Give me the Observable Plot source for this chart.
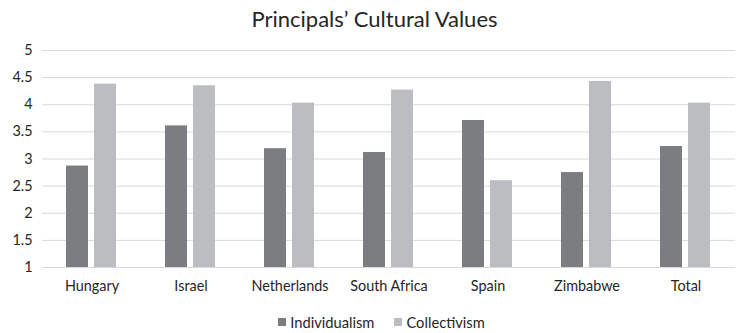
<!DOCTYPE html>
<html>
<head>
<meta charset="utf-8">
<script src="https://cdn.jsdelivr.net/npm/d3@7"></script>
<script src="https://cdn.jsdelivr.net/npm/@observablehq/plot@0.6"></script>
<style>
  html, body { margin: 0; padding: 0; background: #fff; }
  body { width: 737px; height: 333px; overflow: hidden; font-family: Lato, "Noto Sans", sans-serif; color: #262626; }
  #title { box-sizing: border-box; height: 40px; line-height: 37px; text-align: center; font-size: 22px; padding-left: 12px; }
  #chart svg { display: block; }
  #legend { box-sizing: border-box; display: flex; justify-content: center; align-items: center; height: 34px; padding-top: 12px; padding-left: 26px; font-size: 14.7px; gap: 20px; }
  #legend .item { display: flex; align-items: center; }
  #legend .sw { width: 8px; height: 8px; margin-right: 4px; display: inline-block; }
</style>
</head>
<body>
<div id="title">Principals’ Cultural Values</div>
<div id="chart"></div>
<div id="legend"></div>
<script>
// Mean scores per country
const countries = ["Hungary", "Israel", "Netherlands", "South Africa", "Spain", "Zimbabwe", "Total"];
const individualism = [2.87, 3.61, 3.19, 3.12, 3.71, 2.75, 3.23];
const collectivism = [4.38, 4.35, 4.03, 4.27, 2.60, 4.43, 4.03];
const seriesNames = ["Individualism", "Collectivism"];
const seriesColors = ["#7c7d81", "#bcbdc1"];
const yTicks = [1, 1.5, 2, 2.5, 3, 3.5, 4, 4.5, 5];

const rows = countries.flatMap((c, i) => [
  {country: c, series: seriesNames[0], value: individualism[i]},
  {country: c, series: seriesNames[1], value: collectivism[i]}
]);
const yMin = yTicks[0];

const chart = Plot.plot({
  width: 737,
  height: 259,
  marginTop: 10,
  marginLeft: 39,
  marginRight: 0,
  marginBottom: 32,
  style: {fontFamily: "Lato, 'Noto Sans', sans-serif", fontSize: "14.4px", color: "#262626", background: "#fff"},
  fx: {domain: countries, padding: 0, label: null},
  x: {domain: seriesNames, paddingInner: 0.207, paddingOuter: 0.83, axis: null},
  y: {domain: [yTicks[0], yTicks[yTicks.length - 1]], ticks: yTicks, label: null},
  color: {domain: seriesNames, range: seriesColors},
  marks: [
    Plot.ruleY(yTicks, {stroke: "#d9d9d9", strokeWidth: 1}),
    Plot.barY(rows, {fx: "country", x: "series", y1: yMin, y2: "value", fill: "series"}),
    Plot.axisY(yTicks, {tickSize: 0, tickPadding: 10, fontSize: 14.4, label: null, fill: "#262626", tickFormat: d => String(d)}),
    Plot.axisFx({anchor: "bottom", tickSize: 0, tickPadding: 13, fontSize: 14.4, label: null, fill: "#262626"})
  ]
});
document.getElementById("chart").appendChild(chart);

const legend = document.getElementById("legend");
seriesNames.forEach((name, i) => {
  const item = document.createElement("span");
  item.className = "item";
  const sw = document.createElement("span");
  sw.className = "sw";
  sw.style.background = seriesColors[i];
  item.appendChild(sw);
  item.appendChild(document.createTextNode(name));
  legend.appendChild(item);
});
</script>
</body>
</html>
